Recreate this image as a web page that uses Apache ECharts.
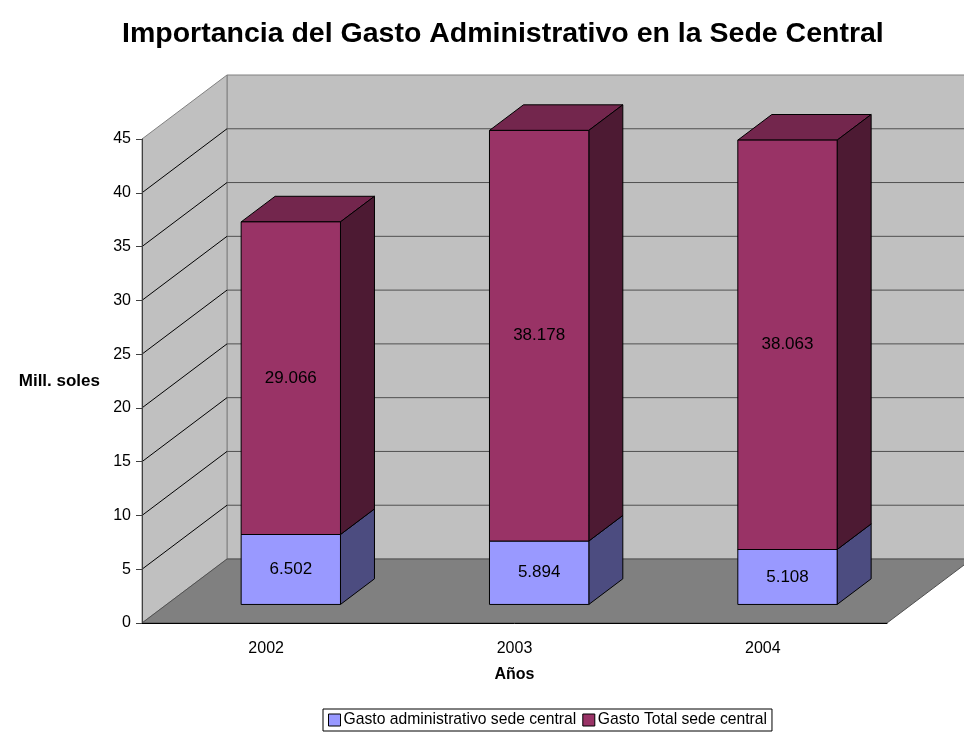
<!DOCTYPE html>
<html>
<head>
<meta charset="utf-8">
<script src="https://cdn.jsdelivr.net/npm/echarts@6/dist/echarts.min.js"></script>
<style>
  html, body { margin: 0; padding: 0; background: #fff; }
  #chart { width: 964px; height: 736px; }
</style>
</head>
<body>
<div id="chart"></div>
<script>
// datos
const years = ['2002', '2003', '2004']
const gastoAdmin = [6.502, 5.894, 5.108]
const gastoTotal = [29.066, 38.178, 38.063]
const yTicks = [0, 5, 10, 15, 20, 25, 30, 35, 40, 45]

// profundidad del "3D" en pixeles
const DX = 85
const DY = -64
const F0 = 0.29 // donde empieza la barra
const FD = 0.4 // fondo de la barra

const chart = echarts.init(document.getElementById('chart'))

function wallItem(params, api) {
  const cs = params.coordSys
  const x0 = cs.x
  const x1 = cs.x + cs.width
  const y0 = cs.y
  const y1 = cs.y + cs.height
  const children = [
    {
      type: 'rect',
      shape: { x: x0 + DX, y: y0 + DY, width: cs.width, height: cs.height },
      style: { fill: '#c0c0c0', stroke: '#808080', lineWidth: 1 }
    },
    {
      type: 'polygon',
      shape: { points: [[x0, y0], [x0 + DX, y0 + DY], [x0 + DX, y1 + DY], [x0, y1]] },
      style: { fill: '#c0c0c0', stroke: '#808080', lineWidth: 1 }
    },
    {
      type: 'polygon',
      shape: { points: [[x0, y1], [x0 + DX, y1 + DY], [x1 + DX, y1 + DY], [x1, y1]] },
      style: { fill: '#808080', stroke: '#505050', lineWidth: 1 }
    }
  ]
  // lineas de division en las paredes
  for (let i = 1; i < yTicks.length - 1; i++) {
    const y = api.coord([0, yTicks[i]])[1]
    children.push({
      type: 'polyline',
      shape: { points: [[x0, y], [x0 + DX, y + DY]] },
      style: { stroke: '#000', lineWidth: 1, fill: null }
    })
    children.push({
      type: 'line',
      shape: { x1: x0 + DX, y1: y + DY, x2: x1 + DX, y2: y + DY },
      style: { stroke: '#505050', lineWidth: 1 }
    })
  }
  return { type: 'group', children }
}

function barItem(front, top, side) {
  return function (params, api) {
    const idx = api.value(0)
    const base = api.value(1)
    const val = api.value(2)
    const p0 = api.coord([idx, base])
    const p1 = api.coord([idx, base + val])
    const w = api.size([1, 0])[0] * 0.4
    const ox = DX * F0
    const oy = DY * F0
    const dx = DX * FD
    const dy = DY * FD
    const xa = p0[0] + ox - w / 2
    const xb = xa + w
    const yb = p0[1] + oy
    const yt = p1[1] + oy
    const line = { stroke: '#000', lineWidth: 1 }
    return {
      type: 'group',
      children: [
        {
          type: 'polygon',
          shape: { points: [[xa, yt], [xa + dx, yt + dy], [xb + dx, yt + dy], [xb, yt]] },
          style: Object.assign({ fill: top }, line)
        },
        {
          type: 'polygon',
          shape: { points: [[xb, yt], [xb + dx, yt + dy], [xb + dx, yb + dy], [xb, yb]] },
          style: Object.assign({ fill: side }, line)
        },
        {
          type: 'rect',
          shape: { x: xa, y: yt, width: w, height: yb - yt },
          style: Object.assign({ fill: front }, line)
        },
        {
          type: 'text',
          style: {
            text: val.toFixed(3),
            x: (xa + xb) / 2,
            y: (yt + yb) / 2,
            textAlign: 'center',
            textVerticalAlign: 'middle',
            fill: '#000',
            font: '17px "Liberation Sans", Arial, sans-serif'
          }
        }
      ]
    }
  }
}

const adminData = gastoAdmin.map((v, i) => [i, 0, v])
const totalData = gastoTotal.map((v, i) => [i, gastoAdmin[i], v])

const font = '"Liberation Sans", Arial, sans-serif'

const option = {
  animation: false,
  title: {
    text: 'Importancia del Gasto Administrativo en la Sede Central',
    left: 117,
    top: 15,
    textStyle: { fontFamily: font, fontSize: 28.5, fontWeight: 'bold', color: '#000' }
  },
  legend: {
    left: 323,
    top: 709,
    icon: 'rect',
    itemWidth: 12,
    itemHeight: 12,
    itemGap: 6,
    padding: [3, 5, 3, 5],
    borderColor: '#000',
    borderWidth: 1,
    textStyle: { fontFamily: font, fontSize: 15.7, color: '#000', padding: [0, 0, 0, -2] },
    itemStyle: { borderColor: '#000', borderWidth: 1 },
    data: ['Gasto administrativo sede central', 'Gasto Total sede central']
  },
  grid: { left: 142, right: 77, top: 139, bottom: 113 },
  xAxis: {
    type: 'category',
    data: years,
    z: 5,
    name: 'Años',
    nameLocation: 'middle',
    nameGap: 44,
    nameTextStyle: { fontFamily: font, fontSize: 16, fontWeight: 'bold', color: '#000' },
    axisLine: { lineStyle: { color: '#000', width: 1 } },
    axisTick: { length: 9, lineStyle: { color: '#000' } },
    axisLabel: { fontFamily: font, fontSize: 16, color: '#000', margin: 18 },
    splitLine: { show: false }
  },
  yAxis: {
    type: 'value',
    min: 0,
    max: 45,
    interval: 5,
    z: 5,
    name: 'Mill. soles',
    nameLocation: 'middle',
    nameRotate: 0,
    nameGap: 42,
    nameTextStyle: { fontFamily: font, fontSize: 17, fontWeight: 'bold', color: '#000', padding: [6, 0, 0, 0] },
    axisLine: { show: true, lineStyle: { color: '#404040', width: 1 } },
    axisTick: { show: true, length: 6, lineStyle: { color: '#404040' } },
    axisLabel: { fontFamily: font, fontSize: 16, color: '#000', margin: 11 },
    splitLine: { show: false }
  },
  series: [
    {
      type: 'custom',
      name: 'walls',
      renderItem: wallItem,
      data: [[0, 0, 0]],
      silent: true,
      z: 1
    },
    {
      type: 'custom',
      name: 'Gasto administrativo sede central',
      renderItem: barItem('#9999ff', '#7373bf', '#4c4c80'),
      itemStyle: { color: '#9999ff' },
      data: adminData,
      z: 2
    },
    {
      type: 'custom',
      name: 'Gasto Total sede central',
      renderItem: barItem('#993366', '#73264d', '#4d1a33'),
      itemStyle: { color: '#993366' },
      data: totalData,
      z: 3
    }
  ]
}

chart.setOption(option)
</script>
</body>
</html>
